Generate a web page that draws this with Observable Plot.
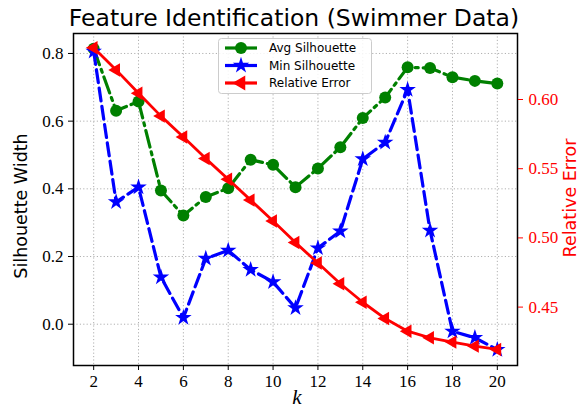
<!DOCTYPE html>
<html><head><meta charset="utf-8">
<script src="https://cdn.jsdelivr.net/npm/d3@7"></script>
<script src="https://cdn.jsdelivr.net/npm/@observablehq/plot@0.6"></script>
<style>
body{margin:0;background:#fff;}
#wrap{position:relative;width:586px;height:409px;overflow:hidden;}
#wrap svg{position:absolute;left:0;top:0;}
</style></head><body><div id="wrap"></div>
<script>
// ---- data ----
const k = [2,3,4,5,6,7,8,9,10,11,12,13,14,15,16,17,18,19,20];
const avgSilhouette = [0.814,0.631,0.658,0.395,0.321,0.376,0.402,0.486,0.471,0.405,0.460,0.523,0.609,0.670,0.759,0.757,0.730,0.719,0.711];
const minSilhouette = [0.806,0.361,0.405,0.139,0.019,0.194,0.218,0.161,0.125,0.048,0.225,0.275,0.488,0.537,0.693,0.277,-0.021,-0.040,-0.075];
const relativeError = [0.6374,0.6214,0.6045,0.5880,0.5729,0.5573,0.5424,0.5273,0.5122,0.4966,0.4818,0.4669,0.4535,0.4417,0.4326,0.4278,0.4247,0.4218,0.4194];
const xTicks = [2,4,6,8,10,12,14,16,18,20];
const silTicks = [0,0.2,0.4,0.6,0.8];
const errTicks = [0.45,0.50,0.55,0.60];
const seriesNames = ["Avg Silhouette","Min Silhouette","Relative Error"];
const titleText = "Feature Identification (Swimmer Data)";

// ---- layout ----
const W=586,H=409,mL=73,mR=69,mT=33,mB=44;
const SANS = "DejaVu Sans";
const SERIF = "Liberation Serif";
const silData = k.map((d,i)=>({k:d, avg:avgSilhouette[i], min:minSilhouette[i]}));
const errData = k.map((d,i)=>({k:d, err:relativeError[i]}));
const gridStyle = {stroke:"#b0b0b0",strokeOpacity:1,strokeWidth:1,strokeDasharray:"1.2,2.2"};
const common = {width:W,height:H,marginLeft:mL,marginRight:mR,marginTop:mT,marginBottom:mB,
  style:{fontFamily:SERIF,fontSize:"17px",background:"transparent",overflow:"visible",color:"black"}};

const chart1 = Plot.plot({...common,
  x:{domain:[1.1,20.9]}, y:{domain:[-0.122,0.859]},
  marks:[
    Plot.gridX(xTicks,gridStyle),
    Plot.gridY(silTicks,gridStyle),
    Plot.axisX(xTicks,{tickSize:5,tickPadding:4,label:null,tickFormat:d=>String(d)}),
    Plot.axisY(silTicks,{tickSize:5,tickPadding:5,label:null,tickFormat:d=>d.toFixed(1)}),
    Plot.line(silData,{x:"k",y:"avg",stroke:"green",strokeWidth:3.2,strokeDasharray:"17,5,3,5"}),
    Plot.dot(silData,{x:"k",y:"avg",fill:"green",symbol:"circle",r:6}),
    Plot.line(silData,{x:"k",y:"min",stroke:"blue",strokeWidth:3.2,strokeDasharray:"13,5.5"}),
    Plot.dot(silData,{x:"k",y:"min",fill:"blue",symbol:"star",r:5.2}),
    Plot.frame({stroke:"black",strokeWidth:1.5})
  ]
});

const chart2 = Plot.plot({...common,
  x:{domain:[1.1,20.9],axis:null}, y:{domain:[0.4078,0.6477]},
  marks:[
    Plot.axisY(errTicks,{anchor:"right",color:"red",tickSize:5,tickPadding:6,label:null,tickFormat:d=>d.toFixed(2)}),
    Plot.line(errData,{x:"k",y:"err",stroke:"red",strokeWidth:2.8}),
    Plot.dot(errData,{x:"k",y:"err",fill:"red",symbol:"triangle",r:5,rotate:-90})
  ]
});

const wrap = document.getElementById("wrap");
wrap.appendChild(chart1);
wrap.appendChild(chart2);

// ---- texts ----
const s2 = d3.select(chart2);
s2.append("text").attr("x",294).attr("y",26).attr("text-anchor","middle")
  .style("font-family",SANS).style("font-size","23.5px").attr("fill","black").text(titleText);
s2.append("text").attr("transform","translate(21,206) rotate(-90)").attr("text-anchor","middle")
  .attr("dominant-baseline","central").style("font-family",SANS).style("font-size","17.5px").attr("fill","black").text("Silhouette Width");
s2.append("text").attr("transform","translate(570,198) rotate(-90)").attr("text-anchor","middle")
  .attr("dominant-baseline","central").style("font-family",SANS).style("font-size","17.5px").attr("fill","red").text("Relative Error");
s2.append("text").attr("x",297).attr("y",404).attr("text-anchor","middle")
  .style("font-family",SERIF).style("font-style","italic").style("font-size","21px").attr("fill","black").text("k");

// ---- legend ----
const lg = s2.append("g");
lg.append("rect").attr("x",218.5).attr("y",38.5).attr("width",153).attr("height",55).attr("rx",3)
  .attr("fill","white").attr("fill-opacity",0.85).attr("stroke","#cccccc");
const legendStyle = [
  {color:"green",sym:d3.symbolCircle,r:6,rot:0},
  {color:"blue",sym:d3.symbolStar,r:5.2,rot:0},
  {color:"red",sym:d3.symbolTriangle,r:5.5,rot:-90}
];
seriesNames.forEach((name,i)=>{
  const st = legendStyle[i];
  const cy = 48 + i*17.5;
  lg.append("line").attr("x1",225).attr("x2",257).attr("y1",cy).attr("y2",cy)
    .attr("stroke",st.color).attr("stroke-width",3.2);
  lg.append("path").attr("d",d3.symbol(st.sym, st.r*st.r*Math.PI)())
    .attr("transform",`translate(241,${cy}) rotate(${st.rot})`).attr("fill",st.color);
  lg.append("text").attr("x",269).attr("y",cy).attr("text-anchor","start").attr("dominant-baseline","central")
    .style("font-family",SANS).style("font-size","12px").attr("fill","black").text(name);
});
</script></body></html>
